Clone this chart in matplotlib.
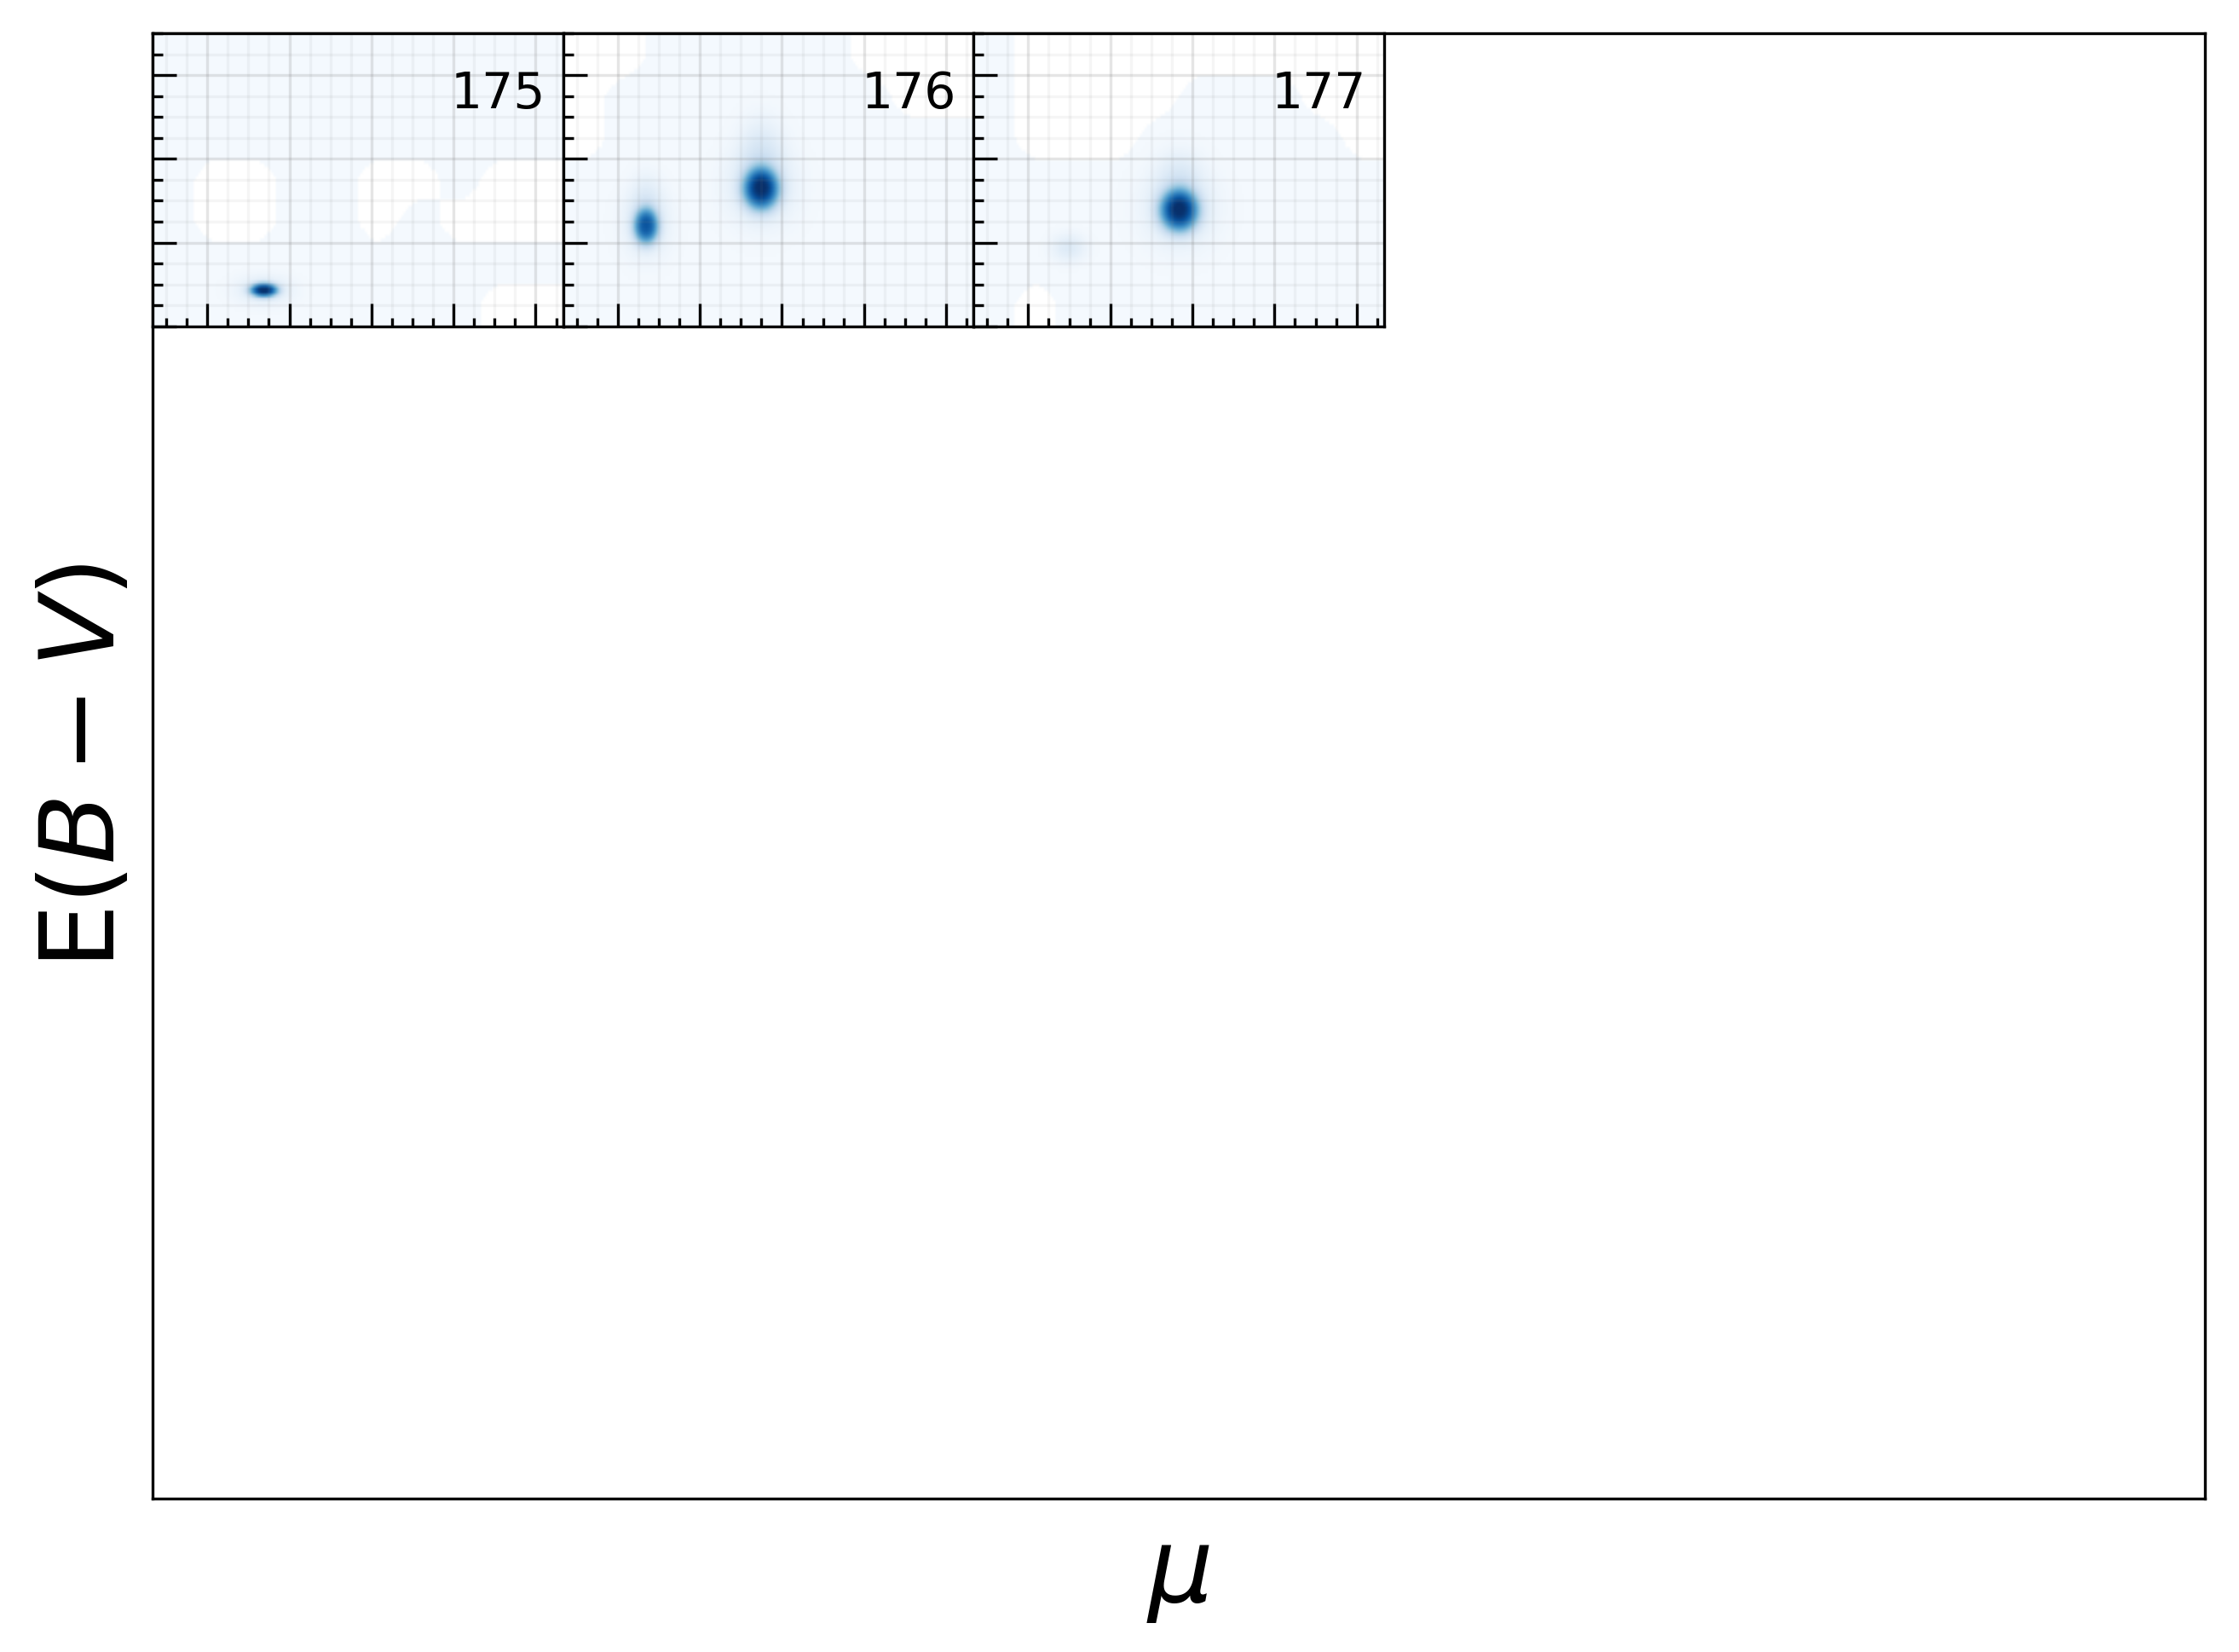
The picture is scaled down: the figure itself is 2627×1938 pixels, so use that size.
import numpy as np
import matplotlib
matplotlib.use("Agg")
import matplotlib.pyplot as plt
from matplotlib.ticker import MultipleLocator

# ---------------- data ----------------
panel_ids = [175, 176, 177]
mu_range = (4.0, 19.0)
ebv_range = (0.0, 3.5)

# density components per panel:
# (mu, E(B-V), width_mu, width_ebv, amplitude, flatness)
blobs_175 = [(8.05, 0.42, 0.40, 0.065, 1.00, 1.4),
             (8.05, 0.42, 0.70, 0.12, 0.15, 1.0)]
blobs_176 = [(7.00, 1.19, 0.36, 0.17, 0.85, 1.4),
             (7.00, 1.22, 0.60, 0.28, 0.16, 1.0),
             (7.00, 1.50, 0.38, 0.22, 0.10, 1.0),
             (11.22, 1.64, 0.52, 0.20, 1.00, 1.4),
             (11.22, 1.66, 0.85, 0.32, 0.18, 1.0),
             (11.22, 2.05, 0.55, 0.30, 0.15, 1.0)]
blobs_177 = [(11.52, 1.38, 0.56, 0.20, 1.00, 1.4),
             (11.52, 1.40, 0.90, 0.32, 0.17, 1.0),
             (11.52, 1.75, 0.55, 0.24, 0.12, 1.0),
             (7.46, 0.93, 0.45, 0.12, 0.14, 1.0)]
panel_blobs = [blobs_175, blobs_176, blobs_177]

# faint background support (rows: high E(B-V) -> low, cols: low mu -> high)
bg_175 = ["1111111111",
          "1111111111",
          "1111111111",
          "1001100100",
          "1001101000",
          "1111111111",
          "1111111100"]
bg_176 = ["0011111000",
          "0111111100",
          "0111111111",
          "1111111111",
          "1111111111",
          "1111111111",
          "1111111111"]
bg_177 = ["1000000000",
          "1000011100",
          "1000111110",
          "1111111111",
          "1111111111",
          "1111111111",
          "1011111111"]
panel_bg = [bg_175, bg_176, bg_177]
bg_level = 0.012

# ---------------- figure ----------------
W, H, DPI = 2627, 1939, 300
fig = plt.figure(figsize=(W / DPI, H / DPI), dpi=DPI)

L, R = 179 / W, 2587 / W
B, T = 1 - 1759 / H, 1 - 40 / H
ax_big = fig.add_axes([L, B, R - L, T - B])
ax_big.set_xticks([])
ax_big.set_yticks([])
for s in ax_big.spines.values():
    s.set_linewidth(0.8)

fig.text(1383 / W, 1 - 1848 / H, r"$\mu$", fontsize=29, ha="center", va="center")
fig.text(100 / W, 1 - 899 / H, r"E$(B-V)$", fontsize=29, ha="center", va="center",
         rotation=90)

gs = fig.add_gridspec(5, 5, left=L, right=R, bottom=B, top=T, wspace=0, hspace=0)

nx, ny = 180, 90
xg = np.linspace(mu_range[0], mu_range[1], nx)
yg = np.linspace(ebv_range[0], ebv_range[1], ny)
X, Y = np.meshgrid(xg, yg)

cmap = plt.get_cmap("Blues").copy()
cmap.set_bad("white")

for i, pid in enumerate(panel_ids):
    ax = fig.add_subplot(gs[0, i])
    dens = np.zeros_like(X)
    for (m, e, sm, se, a, p) in panel_blobs[i]:
        r2 = ((X - m) / sm) ** 2 + ((Y - e) / se) ** 2
        dens += a * np.exp(-0.5 * r2 ** p)
    dens /= dens.max()
    # background support, upsampled smoothly from coarse grid
    coarse = np.array([[float(c) for c in row] for row in panel_bg[i]])[::-1]
    cy = np.linspace(ebv_range[0], ebv_range[1], coarse.shape[0] + 1)
    cy = 0.5 * (cy[:-1] + cy[1:])
    cx = np.linspace(mu_range[0], mu_range[1], coarse.shape[1] + 1)
    cx = 0.5 * (cx[:-1] + cx[1:])
    tmp = np.array([np.interp(xg, cx, r) for r in coarse])
    fine = np.array([np.interp(yg, cy, tmp[:, j]) for j in range(nx)]).T
    mask = fine >= 0.5
    img = dens + bg_level * mask
    img = np.where((~mask) & (dens < 0.01), np.nan, img)
    img = np.ma.masked_invalid(img)
    ax.imshow(img, extent=(mu_range[0], mu_range[1], ebv_range[0], ebv_range[1]),
              origin="lower", aspect="auto", cmap=cmap, vmin=0, vmax=1,
              interpolation="bilinear", zorder=0)
    ax.set_xlim(*mu_range)
    ax.set_ylim(*ebv_range)
    ax.xaxis.set_major_locator(MultipleLocator(3))
    ax.xaxis.set_minor_locator(MultipleLocator(0.75))
    ax.yaxis.set_major_locator(MultipleLocator(1))
    ax.yaxis.set_minor_locator(MultipleLocator(0.25))
    ax.tick_params(which="both", direction="in", labelbottom=False, labelleft=False,
                   width=0.8)
    ax.tick_params(which="major", length=6.6)
    ax.tick_params(axis="x", which="minor", length=2.4)
    ax.tick_params(axis="y", which="minor", length=2.9)
    ax.grid(which="major", color="gray", alpha=0.2, linewidth=0.8, zorder=2)
    ax.grid(which="minor", color="gray", alpha=0.08, linewidth=0.8, zorder=2)
    ax.set_axisbelow(False)
    for s in ax.spines.values():
        s.set_linewidth(0.8)
        s.set_zorder(5)
    ax.text(0.957, 0.748, str(pid), transform=ax.transAxes, ha="right",
            va="baseline", fontsize=14, zorder=6)

fig.savefig("out.png", dpi=DPI)
